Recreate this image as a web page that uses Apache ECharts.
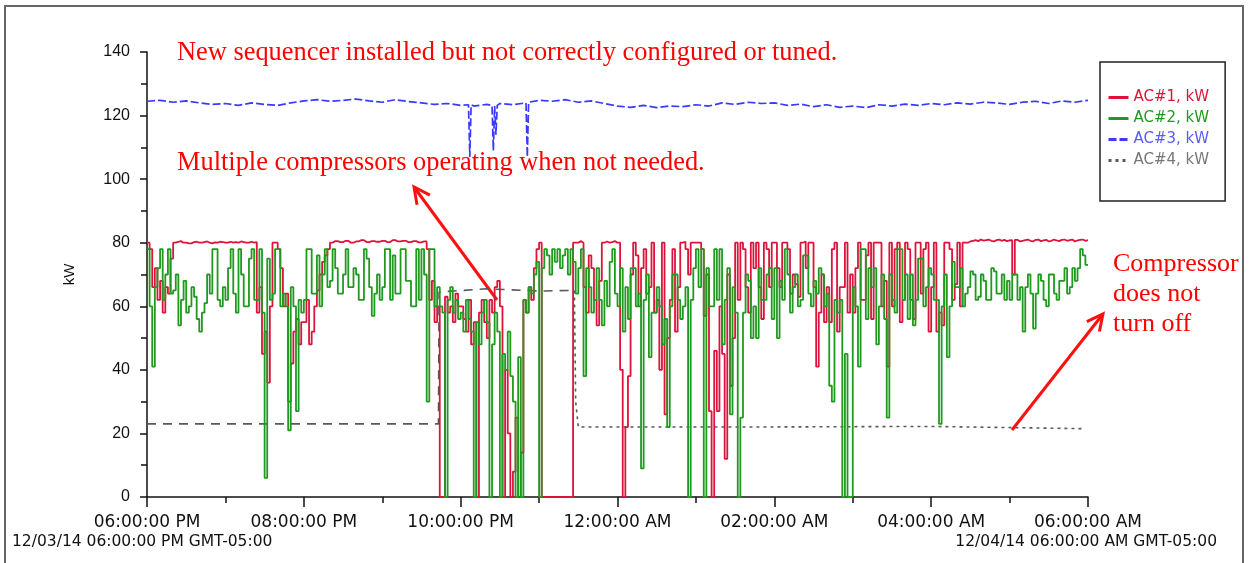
<!DOCTYPE html>
<html>
<head>
<meta charset="utf-8">
<title>AC kW</title>
<script src="https://cdn.jsdelivr.net/npm/echarts@6/dist/echarts.min.js"></script>
<style>
  html, body { margin: 0; padding: 0; background: #fff; }
  #chart { width: 1252px; height: 563px; }
</style>
</head>
<body>
<div id="chart"></div>
<script>
// minutes after 12/03/14 06:00 PM, one sample every 2 minutes (30 per row = 1 hour)
const stepMinutes = 2;

const ac1Values = [
  80, 78, 66, 72, 62, 68, 58, 66, 64, 75, 80, 80.3, 80.5, 80, 80, 79.8, 79.8, 80.2, 80.3, 80, 80, 80.2, 80.4, 80, 79.8, 80.1, 80, 80.3, 80.2, 80,
  80, 80.3, 80, 80.2, 80, 80.4, 80.2, 80, 80, 80.3, 80, 80.2, 58, 66, 45, 52, 36, 60, 80, 80, 78, 72, 60, 64, 30, 42, 52, 56, 48, 55,
  55, 62, 48, 52, 60, 65, 70, 74, 76, 78, 80, 80.5, 80.5, 80.2, 80.2, 80.6, 80.6, 80, 80, 80.4, 80.4, 80.8, 80.8, 80.2, 80.2, 80.5, 80.5, 80.3, 80.3, 80.6,
  80.6, 80.2, 80.2, 80.8, 80.8, 80.4, 80.4, 80.6, 80.6, 80.2, 80.2, 80.5, 80.5, 80.1, 80.1, 80.4, 80.4, 78, 62, 68, 55, 60, 0, 0, 63, 58, 60, 55, 64, 60,
  60, 56, 52, 62, 48, 55, 0, 58, 62, 55, 50, 62, 58, 66, 68, 60, 0, 40, 20, 0, 8, 25, 0, 14, 62, 58, 66, 62, 72, 78,
  80, 0, 0, 0, 0, 0, 0, 0, 0, 0, 0, 0, 0, 80, 80, 80.5, 80, 66, 58, 76, 72, 62, 54, 68, 80, 80.4, 80, 80.2, 80.5, 80,
  80, 40, 0, 22, 38, 70, 80, 76, 60, 72, 78, 64, 66, 80, 58, 62, 40, 80, 26, 50, 62, 78, 52, 66, 80, 80.3, 78, 70, 80, 80,
  80, 80, 78, 57, 70, 27, 0, 46, 27, 60, 45, 12, 70, 35, 50, 80, 62, 80, 78, 66, 58, 80, 72, 80, 66, 56, 80, 78, 66, 80,
  80, 72, 66, 80, 80, 78, 64, 70, 67, 63, 80, 80.4, 72, 80, 80, 66, 41, 58, 70, 55, 66, 55, 78, 80, 52, 66, 66, 80, 58, 70,
  58, 72, 80, 62, 62, 76, 80, 56, 80, 80, 80, 60, 68, 41, 80, 60, 78, 80, 55, 62, 80, 78, 62, 56, 80, 80, 64, 78, 80, 52,
  66, 80, 52, 58, 54, 80, 80, 78, 62, 67, 80, 60, 80, 80, 80.4, 80.6, 80.8, 80.5, 81, 80.7, 80.8, 81, 80.6, 80.4, 80.8, 81, 80.6, 80.9, 80.5, 80.7,
  80.8, 70, 80.9, 80.4, 80.6, 80.8, 81, 80.6, 80.4, 80.9, 81, 80.5, 80.7, 80.9, 80.4, 80.6, 81, 80.7, 80.5, 80.9, 81, 80.6, 80.8, 81, 80.4, 80.7, 80.9, 81, 80.6, 80.8,
  81
];

const ac2Values = [
  78, 60, 41, 66, 72, 78, 62, 70, 78, 64, 65, 70, 54, 62, 68, 58, 60, 66, 63, 56, 52, 58, 61, 70, 64, 78, 78, 62, 60, 66,
  62, 72, 78, 64, 58, 78, 70, 60, 60, 75, 78, 62, 62, 78, 58, 6, 75, 62, 64, 78, 78, 60, 64, 60, 21, 66, 60, 27, 62, 58,
  62, 78, 78, 64, 64, 76, 60, 70, 78, 66, 68, 78, 72, 64, 64, 70, 78, 66, 66, 72, 70, 62, 62, 78, 75, 66, 57, 64, 70, 62,
  66, 78, 78, 62, 76, 64, 64, 78, 78, 68, 68, 60, 60, 78, 62, 78, 70, 30, 78, 78, 60, 66, 60, 58, 0, 62, 66, 58, 62, 56,
  58, 52, 62, 56, 52, 0, 55, 48, 58, 62, 55, 0, 48, 58, 52, 0, 45, 40, 52, 38, 30, 0, 44, 0, 62, 58, 66, 64, 70, 74,
  0, 72, 78, 76, 70, 78, 74, 78, 72, 76, 78, 70, 78, 74, 64, 72, 78, 38, 72, 66, 58, 62, 72, 62, 54, 68, 60, 74, 78, 64,
  60, 72, 52, 66, 56, 72, 72, 60, 64, 9, 62, 70, 44, 58, 58, 66, 60, 48, 56, 22, 60, 70, 70, 62, 56, 60, 66, 0, 62, 72,
  78, 66, 78, 0, 72, 60, 60, 78, 62, 78, 48, 62, 72, 26, 66, 58, 0, 25, 58, 70, 68, 50, 60, 50, 72, 62, 62, 70, 72, 56,
  72, 50, 68, 62, 78, 70, 58, 66, 70, 60, 62, 76, 76, 64, 60, 68, 64, 72, 70, 60, 64, 35, 30, 62, 58, 62, 0, 45, 0, 0,
  66, 60, 41, 78, 78, 56, 72, 66, 72, 48, 60, 70, 56, 25, 70, 62, 58, 78, 78, 62, 70, 56, 70, 54, 62, 75, 75, 60, 66, 72,
  70, 62, 62, 23, 60, 70, 44, 60, 74, 66, 66, 72, 60, 64, 66, 71, 70, 62, 63, 70, 68, 62, 62, 72, 71, 64, 64, 70, 62, 68,
  62, 70, 70, 62, 66, 52, 66, 70, 64, 53, 64, 70, 68, 62, 60, 70, 70, 64, 62, 68, 68, 72, 64, 66, 72, 68, 72, 78, 76, 73,
  73
];

const ac3Times = [
  0, 10, 20, 30, 40, 50, 60, 70, 80, 90, 100, 110, 120, 130, 140, 150, 160,
  170, 180, 190, 200, 210, 220, 230, 240, 246, 247, 248, 250, 260, 264, 265,
  266, 267, 268, 270, 280, 290, 291, 292, 300, 310, 320, 330, 340, 350, 360,
  370, 380, 390, 400, 410, 420, 430, 440, 450, 460, 470, 480, 490, 500, 510,
  520, 530, 540, 550, 560, 570, 580, 590, 600, 610, 620, 630, 640, 650, 660,
  670, 680, 690, 700, 710, 720
];
const ac3Values = [
  124.5, 124.8, 124.2, 124.6, 124, 123.5, 123.8, 123.2, 124, 123.5, 123.2, 124, 124.6, 125, 124.5, 124.8, 125.2,
  124.6, 124.2, 125, 124.4, 124, 123.5, 123.8, 123.2, 123.4, 107, 123.4, 123, 123.5, 123.2, 109,
  123, 114, 123.2, 123.8, 123.4, 124, 107, 124.2, 124.8, 124.5, 125, 124.2, 124.6, 123.8, 123,
  122.6, 123.2, 122.5, 123, 122.8, 123.4, 123, 124, 123.5, 124.2, 123.8, 124, 123.2, 123.6, 122.8,
  123.4, 122.6, 123, 122.5, 123.4, 123, 123.6, 123.2, 123.8, 123.4, 124, 123.6, 124.2, 124, 123.5,
  124.2, 124.5, 123.8, 124.6, 124.2, 124.8
];

// AC#4: long dashes before 11:27 PM, short dots after
const ac4DashTimes = [0, 223, 223.5, 260, 300, 327];
const ac4DashValues = [23, 23, 64.5, 65.5, 64.8, 65];
const ac4DotTimes = [327, 328, 330, 450, 600, 716];
const ac4DotValues = [65, 30, 22, 22, 22.2, 21.5];

const tickLabels = ['06:00:00 PM', '08:00:00 PM', '10:00:00 PM', '12:00:00 AM', '02:00:00 AM', '04:00:00 AM', '06:00:00 AM'];
const seriesNames = ['AC#1, kW', 'AC#2, kW', 'AC#3, kW', 'AC#4, kW'];
const seriesColors = ['#dc143c', '#1f9a1f', '#3a3aff', '#5a5a5a'];
const legendTextColors = ['#dc143c', '#1f9a1f', '#5a5aff', '#777777'];
const startStamp = '12/03/14 06:00:00 PM GMT-05:00';
const endStamp = '12/04/14 06:00:00 AM GMT-05:00';
const notes = [
  'New sequencer installed but not correctly configured or tuned.',
  'Multiple compressors operating when not needed.',
  'Compressor\ndoes not\nturn off'
];

const pair = (times, values) => times.map((t, i) => [t, values[i]]);
const stepTimes = ac1Values.map((_, i) => i * stepMinutes);

// little helper for the red annotation arrows
function arrow(x1, y1, x2, y2) {
  const len = Math.hypot(x2 - x1, y2 - y1);
  const ux = (x2 - x1) / len, uy = (y2 - y1) / len;
  const bx = x2 - ux * 16, by = y2 - uy * 16;
  return [
    { type: 'line', shape: { x1, y1, x2, y2 }, style: { stroke: '#ff1010', lineWidth: 3 } },
    { type: 'polyline', shape: { points: [[bx - uy * 8, by + ux * 8], [x2, y2], [bx + uy * 8, by - ux * 8]] },
      style: { stroke: '#ff1010', lineWidth: 3, fill: null } }
  ];
}

const chart = echarts.init(document.getElementById('chart'));
chart.setOption({
  backgroundColor: '#fff',
  animation: false,
  grid: { left: 147, right: 164, top: 52, bottom: 66 },
  legend: {
    orient: 'vertical', left: 1100, top: 62,
    padding: [28, 16, 33, 7],
    itemGap: 6, itemWidth: 20, itemHeight: 14,
    borderColor: '#222', borderWidth: 1.5,
    lineStyle: { width: 3 },
    itemStyle: { color: 'rgba(0,0,0,0)', borderWidth: 0, opacity: 0 },
    textStyle: { fontFamily: 'DejaVu Sans', fontSize: 15 },
    data: seriesNames.map((n, i) => ({ name: n, textStyle: { color: legendTextColors[i] } }))
  },
  xAxis: {
    type: 'value', min: 0, max: 720, interval: 120,
    axisLine: { lineStyle: { color: '#111', width: 1.5 } },
    axisTick: { length: 10, lineStyle: { color: '#111', width: 1.5 } },
    minorTick: { show: true, splitNumber: 2, length: 6, lineStyle: { color: '#111', width: 1.5 } },
    splitLine: { show: false },
    axisLabel: {
      margin: 17, color: '#111', fontFamily: 'DejaVu Sans', fontSize: 17,
      formatter: v => tickLabels[v / 120]
    }
  },
  yAxis: {
    type: 'value', min: 0, max: 140, interval: 20,
    name: 'kW', nameLocation: 'middle', nameGap: 70, nameRotate: 90,
    nameTextStyle: { color: '#111', fontFamily: 'Liberation Sans', fontSize: 15 },
    axisLine: { show: true, lineStyle: { color: '#111', width: 1.5 } },
    axisTick: { show: true, length: 7, lineStyle: { color: '#111', width: 1.5 } },
    minorTick: { show: true, splitNumber: 2, length: 6, lineStyle: { color: '#111', width: 1.5 } },
    splitLine: { show: false },
    axisLabel: { margin: 17, color: '#111', fontFamily: 'Liberation Sans', fontSize: 16 }
  },
  series: [
    { name: seriesNames[3], type: 'line', symbol: 'none', z: 2,
      data: pair(ac4DotTimes, ac4DotValues),
      lineStyle: { color: seriesColors[3], width: 1.6, type: [3, 4] }, itemStyle: { color: seriesColors[3] } },
    { name: seriesNames[3], type: 'line', symbol: 'none', z: 2,
      data: pair(ac4DashTimes, ac4DashValues),
      lineStyle: { color: seriesColors[3], width: 1.6, type: [9, 7] }, itemStyle: { color: seriesColors[3] } },
    { name: seriesNames[2], type: 'line', symbol: 'none', z: 3,
      data: pair(ac3Times, ac3Values),
      lineStyle: { color: seriesColors[2], width: 1.7, type: [8, 3] }, itemStyle: { color: seriesColors[2] } },
    { name: seriesNames[0], type: 'line', symbol: 'none', step: 'end', z: 4,
      data: pair(stepTimes, ac1Values),
      lineStyle: { color: seriesColors[0], width: 1.8 }, itemStyle: { color: seriesColors[0] } },
    { name: seriesNames[1], type: 'line', symbol: 'none', step: 'end', z: 5,
      data: pair(stepTimes, ac2Values),
      lineStyle: { color: seriesColors[1], width: 1.8 }, itemStyle: { color: seriesColors[1] } }
  ],
  graphic: [
    { type: 'rect', shape: { x: 5, y: 6, width: 1238, height: 580 },
      style: { fill: null, stroke: '#666', lineWidth: 2 } },
    { type: 'text', x: 12, y: 542,
      style: { text: startStamp, fill: '#111', font: '15.5px "DejaVu Sans"', verticalAlign: 'middle' } },
    { type: 'text', x: 1217, y: 542,
      style: { text: endStamp, fill: '#111', font: '15.5px "DejaVu Sans"', align: 'right', verticalAlign: 'middle' } },
    { type: 'text', x: 177, y: 53, z: 10,
      style: { text: notes[0], fill: '#ff0000', font: '26.4px "Liberation Serif"', verticalAlign: 'middle' } },
    { type: 'text', x: 177, y: 163, z: 10,
      style: { text: notes[1], fill: '#ff0000', font: '26.4px "Liberation Serif"', verticalAlign: 'middle' } },
    { type: 'text', x: 1113, y: 249, z: 10,
      style: { text: notes[2], fill: '#ff0000', font: '26px "Liberation Serif"', lineHeight: 30, verticalAlign: 'top' } },
    ...arrow(497, 300, 414, 187),
    ...arrow(1012, 430, 1103, 314)
  ]
});
</script>
</body>
</html>
